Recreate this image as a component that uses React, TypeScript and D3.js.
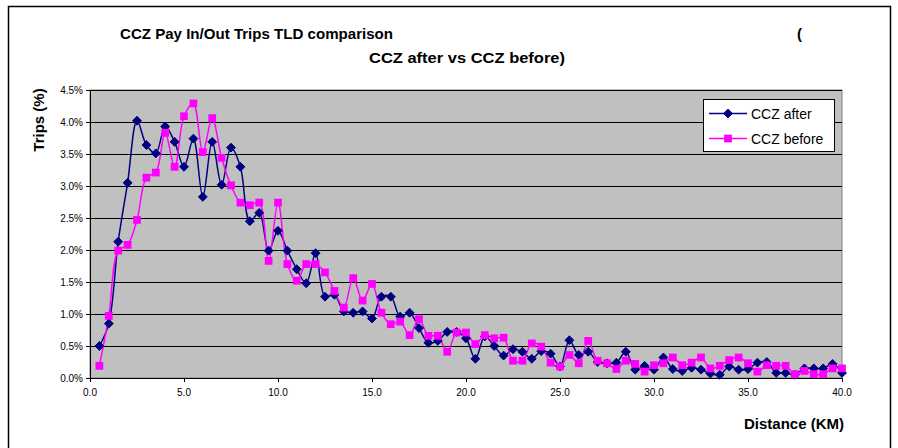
import React from "react";
import * as d3 from "d3";

const distances = [
  0.5, 1.0, 1.5, 2.0, 2.5, 3.0, 3.5, 4.0, 4.5, 5.0,
  5.5, 6.0, 6.5, 7.0, 7.5, 8.0, 8.5, 9.0, 9.5, 10.0,
  10.5, 11.0, 11.5, 12.0, 12.5, 13.0, 13.5, 14.0, 14.5, 15.0,
  15.5, 16.0, 16.5, 17.0, 17.5, 18.0, 18.5, 19.0, 19.5, 20.0,
  20.5, 21.0, 21.5, 22.0, 22.5, 23.0, 23.5, 24.0, 24.5, 25.0,
  25.5, 26.0, 26.5, 27.0, 27.5, 28.0, 28.5, 29.0, 29.5, 30.0,
  30.5, 31.0, 31.5, 32.0, 32.5, 33.0, 33.5, 34.0, 34.5, 35.0,
  35.5, 36.0, 36.5, 37.0, 37.5, 38.0, 38.5, 39.0, 39.5, 40.0,
];

const cczAfter = [
  0.50, 0.85, 2.13, 3.05, 4.02, 3.64, 3.51, 3.93, 3.69, 3.30,
  3.74, 2.83, 3.69, 3.02, 3.60, 3.30, 2.45, 2.58, 1.99, 2.30,
  1.99, 1.70, 1.48, 1.95, 1.27, 1.30, 1.04, 1.02, 1.04, 0.93,
  1.27, 1.27, 0.96, 1.02, 0.78, 0.55, 0.58, 0.72, 0.72, 0.62,
  0.30, 0.65, 0.50, 0.35, 0.45, 0.41, 0.30, 0.42, 0.38, 0.18,
  0.59, 0.36, 0.41, 0.25, 0.23, 0.24, 0.41, 0.13, 0.19, 0.13,
  0.32, 0.14, 0.11, 0.16, 0.13, 0.07, 0.05, 0.18, 0.13, 0.14,
  0.24, 0.25, 0.08, 0.08, 0.05, 0.15, 0.15, 0.15, 0.22, 0.08,
];

const cczBefore = [
  0.19, 0.97, 1.99, 2.08, 2.47, 3.13, 3.21, 3.83, 3.30, 4.09,
  4.29, 3.53, 4.06, 3.44, 3.01, 2.74, 2.70, 2.74, 1.83, 2.74,
  1.78, 1.52, 1.78, 1.78, 1.65, 1.36, 1.10, 1.56, 1.21, 1.47,
  1.02, 0.84, 0.88, 0.67, 0.92, 0.66, 0.66, 0.41, 0.71, 0.71,
  0.53, 0.67, 0.62, 0.63, 0.27, 0.27, 0.54, 0.49, 0.24, 0.18,
  0.36, 0.23, 0.58, 0.27, 0.23, 0.14, 0.27, 0.22, 0.10, 0.20,
  0.23, 0.32, 0.20, 0.24, 0.32, 0.15, 0.19, 0.28, 0.32, 0.23,
  0.10, 0.20, 0.19, 0.19, 0.06, 0.11, 0.06, 0.06, 0.15, 0.15,
];

const yTicks = [0, 0.5, 1.0, 1.5, 2.0, 2.5, 3.0, 3.5, 4.0, 4.5];
const xTicks = [0, 5, 10, 15, 20, 25, 30, 35, 40];

const seriesNames = ["CCZ after", "CCZ before"];

const FONT = "Arial, 'Liberation Sans', Helvetica, sans-serif";

export default function App() {
  const x = d3.scaleLinear().domain([0, 40]).range([90, 842]);
  const y = d3.scaleLinear().domain([0, 4.5]).range([378, 90]);

  const line = d3
    .line<[number, number]>()
    .x((d) => x(d[0]))
    .y((d) => y(d[1]))
    .curve(d3.curveCatmullRom.alpha(0.5));

  const afterPts: [number, number][] = distances.map((d, i) => [d, cczAfter[i]]);
  const beforePts: [number, number][] = distances.map((d, i) => [d, cczBefore[i]]);

  const diamond = d3.symbol(d3.symbolDiamond2, 50)()!;
  const square = d3.symbol(d3.symbolSquare, 60)()!;

  const navy = "#000080";
  const magenta = "#FF00FF";

  return (
    <svg
      width={898}
      height={448}
      style={{ position: "absolute", left: 0, top: 0, background: "#fff" }}
      fontFamily={FONT}
    >
      <rect x={8.5} y={6.5} width={882} height={460} fill="#fff" stroke="#000" strokeWidth={1.5} />

      {/* Title */}
      <text x={120} y={39} fontSize={15} fontWeight="bold" textLength={273} lengthAdjust="spacingAndGlyphs">
        CCZ Pay In/Out Trips TLD comparison
      </text>
      <text x={797} y={39} fontSize={15} fontWeight="bold">(</text>
      <text x={467} y={63} fontSize={15} fontWeight="bold" textAnchor="middle" textLength={196} lengthAdjust="spacingAndGlyphs">
        CCZ after vs CCZ before)
      </text>

      {/* Plot area */}
      <rect x={x(0)} y={y(4.5)} width={x(40) - x(0)} height={y(0) - y(4.5)} fill="#C0C0C0" stroke="#808080" strokeWidth={1} />

      {yTicks.map((t) => (
        <line key={"g" + t} x1={x(0)} x2={x(40)} y1={Math.round(y(t)) + 0.5} y2={Math.round(y(t)) + 0.5} stroke="#000" strokeWidth={1} />
      ))}

      {/* Axes */}
      <line x1={x(0) + 0.5} x2={x(0) + 0.5} y1={y(4.5)} y2={y(0)} stroke="#000" />
      <line x1={x(0)} x2={x(40)} y1={Math.round(y(0)) + 0.5} y2={Math.round(y(0)) + 0.5} stroke="#000" />
      {yTicks.map((t) => (
        <g key={"yt" + t}>
          <line x1={x(0) - 4} x2={x(0)} y1={Math.round(y(t)) + 0.5} y2={Math.round(y(t)) + 0.5} stroke="#000" />
          <text x={x(0) - 7} y={y(t) + 3.5} fontSize={10} textAnchor="end" fill="#000">
            {d3.format(".1f")(t) + "%"}
          </text>
        </g>
      ))}
      {xTicks.map((t) => (
        <g key={"xt" + t}>
          <line x1={Math.round(x(t)) + 0.5} x2={Math.round(x(t)) + 0.5} y1={y(0)} y2={y(0) + 4} stroke="#000" />
          <text x={x(t)} y={y(0) + 18} fontSize={10} textAnchor="middle" fill="#000">
            {d3.format(".1f")(t)}
          </text>
        </g>
      ))}

      {/* Series */}
      <path d={line(afterPts)!} fill="none" stroke={navy} strokeWidth={1.5} />
      <path d={line(beforePts)!} fill="none" stroke={magenta} strokeWidth={1.5} />
      {afterPts.map((p, i) => (
        <path key={"a" + i} d={diamond} transform={`translate(${x(p[0])},${y(p[1])})`} fill={navy} stroke={navy} />
      ))}
      {beforePts.map((p, i) => (
        <path key={"b" + i} d={square} transform={`translate(${x(p[0])},${y(p[1])})`} fill={magenta} />
      ))}

      {/* Axis titles */}
      <text transform={`translate(44,120) rotate(-90)`} fontSize={15} fontWeight="bold" textAnchor="middle">
        Trips (%)
      </text>
      <text x={844} y={429} fontSize={15} fontWeight="bold" textAnchor="end">
        Distance (KM)
      </text>

      {/* Legend */}
      <rect x={703.5} y={99.5} width={131} height={52} fill="#fff" stroke="#000" strokeWidth={1} />
      <line x1={709} x2={747} y1={113.5} y2={113.5} stroke={navy} strokeWidth={1.5} />
      <path d={diamond} transform="translate(728,113.5)" fill={navy} stroke={navy} />
      <text x={751} y={118.5} fontSize={14}>{seriesNames[0]}</text>
      <line x1={709} x2={747} y1={138.5} y2={138.5} stroke={magenta} strokeWidth={1.5} />
      <path d={square} transform="translate(728,138.5)" fill={magenta} />
      <text x={751} y={143.5} fontSize={14}>{seriesNames[1]}</text>
    </svg>
  );
}
